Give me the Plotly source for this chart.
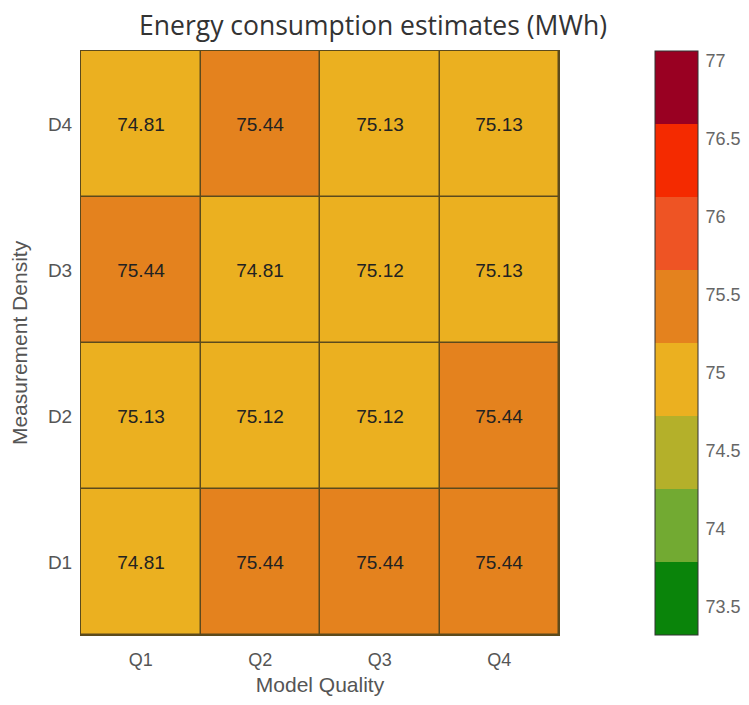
import plotly.graph_objects as go

quality = ["Q1", "Q2", "Q3", "Q4"]
density = ["D1", "D2", "D3", "D4"]
z_d1 = [74.81, 75.44, 75.44, 75.44]
z_d2 = [75.13, 75.12, 75.12, 75.44]
z_d3 = [75.44, 74.81, 75.12, 75.13]
z_d4 = [74.81, 75.44, 75.13, 75.13]
cbar_ticks = [73.5, 74, 74.5, 75, 75.5, 76, 76.5, 77]
zmin, zmax = 73.32, 77.06
band_colors = ["#0a840a", "#72aa32", "#b4b02a", "#ebb020",
               "#e4821e", "#ee5424", "#f42a00", "#990022"]

n = len(band_colors)
colorscale = []
for i, c in enumerate(band_colors):
    colorscale.append([i / n, c])
    colorscale.append([(i + 1) / n, c])

FONT = "Liberation Sans, Arial, Helvetica"

fig = go.Figure(go.Heatmap(
    x=quality, y=density, z=[z_d1, z_d2, z_d3, z_d4],
    zmin=zmin, zmax=zmax, colorscale=colorscale,
    xgap=1.5, ygap=1.5,
    texttemplate="%{z:.2f}",
    textfont=dict(family=FONT, size=19, color="#222222"),
    colorbar=dict(
        x=1.2008, xanchor="left", xpad=0, y=0.5, yanchor="middle", len=1.0,
        lenmode="fraction", ypad=0, thickness=43, outlinewidth=1,
        outlinecolor="#333333", tickvals=cbar_ticks,
        ticktext=[f"{t:g}" for t in cbar_ticks],
        ticks="outside", ticklen=4, tickcolor="rgba(0,0,0,0)",
        tickfont=dict(family=FONT, size=18, color="#666666"),
    ),
    hoverinfo="skip",
))

fig.update_layout(
    width=741, height=688,
    margin=dict(l=73, r=190, t=43, b=61, autoexpand=False),
    paper_bgcolor="white",
    plot_bgcolor="#5c4a1c",
    title=dict(text="Energy consumption estimates (MWh)", x=0.4926, xanchor="center",
               y=0.974, yanchor="middle",
               font=dict(family="Open Sans", size=26.5, color="#333333")),
    font=dict(family=FONT, color="#444444"),
    xaxis=dict(title=dict(text="Model Quality", font=dict(size=21, color="#555555"), standoff=17),
               tickfont=dict(size=18, color="#555555"), showgrid=False, zeroline=False,
               showline=True, linecolor="#5c4a1c", linewidth=1, mirror=True,
               ticks="", ticklabelstandoff=8, automargin=False),
    yaxis=dict(title=dict(text="Measurement Density", font=dict(size=21, color="#555555"), standoff=16),
               tickfont=dict(size=19, color="#555555"), showgrid=False, zeroline=False,
               showline=True, linecolor="#5c4a1c", linewidth=1, mirror=True,
               ticks="", ticklabelstandoff=4, automargin=False),
)

fig.write_html("out.html")
